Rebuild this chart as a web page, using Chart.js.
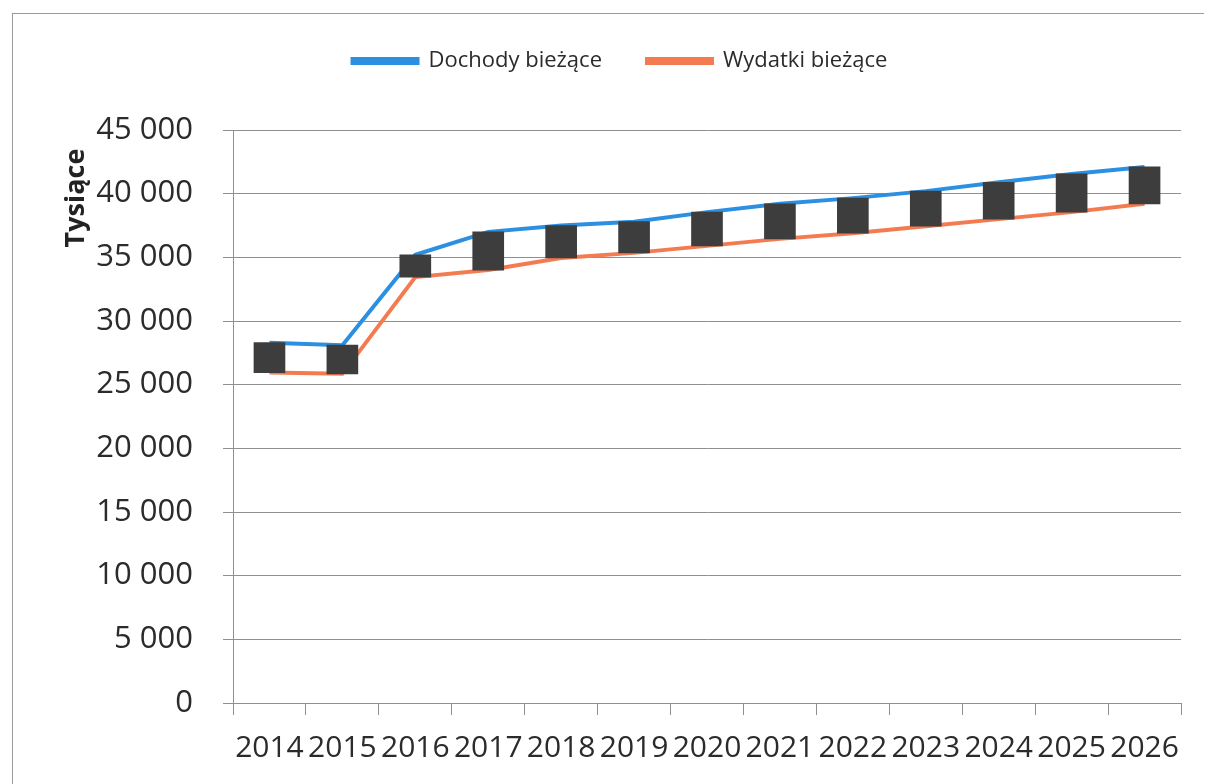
<!DOCTYPE html>
<html>
<head>
<meta charset="utf-8">
<script src="https://cdn.jsdelivr.net/npm/chart.js@4"></script>
<style>
  body { margin: 0; background: #fff; }
  .frame { position: absolute; left: 12px; top: 13px; width: 1191px; height: 800px; border-top: 1px solid #9a9a9a; border-left: 1px solid #9a9a9a; }
  .wrap { position: absolute; left: 0; top: 0; width: 1210px; height: 784px; }
</style>
</head>
<body>
<div class="frame"></div>
<div class="wrap"><canvas id="budgetChart" width="1210" height="784"></canvas></div>
<script>
const years = ['2014', '2015', '2016', '2017', '2018', '2019', '2020', '2021', '2022', '2023', '2024', '2025', '2026']
const dochody = [28300, 28100, 35200, 37000, 37500, 37800, 38550, 39200, 39650, 40200, 40900, 41550, 42100]
const wydatki = [25950, 25850, 33450, 34000, 34950, 35350, 35900, 36450, 36900, 37450, 38000, 38550, 39200]
const yTicks = [0, 5000, 10000, 15000, 20000, 25000, 30000, 35000, 40000, 45000]

const gridColor = '#8f8f8f'
const textColor = '#2b2b2b'

function formatThousands(v) {
  return String(v).replace(/\B(?=(\d{3})+(?!\d))/g, ' ')
}

// legend takes fixed height so the plot starts where it does in the original
const legendHeight = {
  id: 'legendHeight',
  afterInit(chart) {
    const fit = chart.legend.fit
    chart.legend.fit = function () {
      fit.call(this)
      this.height = 125
    }
  }
}

const axisTitle = {
  id: 'axisTitle',
  afterDraw(chart) {
    const ctx = chart.ctx
    ctx.save()
    ctx.translate(76, 198)
    ctx.rotate(-Math.PI / 2)
    ctx.font = 'bold 27px "Open Sans"'
    ctx.fillStyle = '#222'
    ctx.textAlign = 'center'
    ctx.textBaseline = 'middle'
    ctx.fillText('Tysiące', 0, 0)
    ctx.restore()
  }
}

new Chart(document.querySelector('#budgetChart'), {
  type: 'bar',
  data: {
    labels: years,
    datasets: [{
      type: 'bar',
      label: 'range',
      data: wydatki.map((v, i) => [v, dochody[i]]),
      backgroundColor: '#3d3d3d',
      borderWidth: 0,
      barThickness: 31,
      order: 0
    }, {
      type: 'line',
      label: 'Dochody bieżące',
      data: dochody,
      borderColor: '#2b8fe2',
      backgroundColor: '#2b8fe2',
      borderWidth: 4,
      pointRadius: 0,
      tension: 0,
      order: 1
    }, {
      type: 'line',
      label: 'Wydatki bieżące',
      data: wydatki,
      borderColor: '#f47b50',
      backgroundColor: '#f47b50',
      borderWidth: 4,
      pointRadius: 0,
      tension: 0,
      order: 2
    }]
  },
  options: {
    responsive: false,
    animation: false,
    devicePixelRatio: 1,
    layout: {
      padding: { top: 5, left: 59, right: 29, bottom: 0 }
    },
    plugins: {
      legend: {
        labels: {
          filter: item => item.text !== 'range',
          boxWidth: 65,
          boxHeight: 4,
          padding: 45,
          color: textColor,
          font: { family: 'Open Sans', size: 22 }
        }
      },
      tooltip: { enabled: false }
    },
    scales: {
      x: {
        offset: true,
        grid: {
          offset: true,
          drawOnChartArea: false,
          drawTicks: true,
          tickLength: 12,
          color: gridColor
        },
        border: { display: true, color: gridColor },
        ticks: {
          autoSkip: false,
          maxRotation: 0,
          minRotation: 0,
          padding: 15,
          color: textColor,
          font: { family: 'Open Sans', size: 30 }
        },
        afterFit(scale) {
          scale.height = 81
        }
      },
      y: {
        min: 0,
        max: 45000,
        afterBuildTicks(scale) {
          scale.ticks = yTicks.map(v => ({ value: v }))
        },
        grid: {
          drawTicks: true,
          tickLength: 10,
          color: gridColor
        },
        border: { display: true, color: gridColor },
        ticks: {
          padding: 30,
          color: textColor,
          font: { family: 'Open Sans', size: 31 },
          callback: v => formatThousands(v)
        },
        afterFit(scale) {
          scale.width = 174
        }
      }
    }
  },
  plugins: [legendHeight, axisTitle]
})
</script>
</body>
</html>
